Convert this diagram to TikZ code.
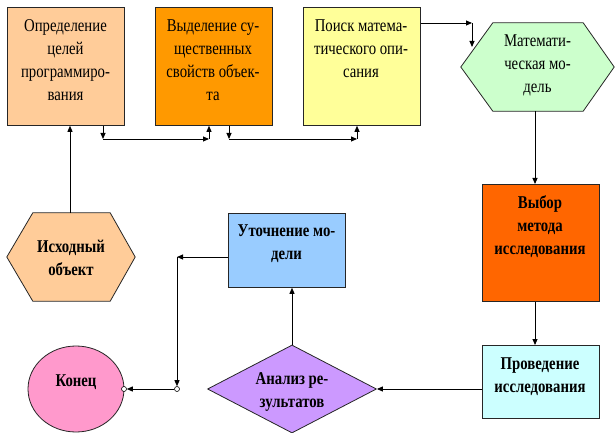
\documentclass[tikz,border=0pt]{standalone}
\usepackage{fontspec}
\setmainfont{Liberation Serif}
\usetikzlibrary{arrows.meta,shapes.geometric,calc}
\definecolor{cpeach}{HTML}{FFCC99}
\definecolor{corange}{HTML}{FF9900}
\definecolor{cyellow}{HTML}{FFFF99}
\definecolor{cgreen}{HTML}{CCFFCC}
\definecolor{cdeep}{HTML}{FF6600}
\definecolor{ccyan}{HTML}{CCFFFF}
\definecolor{cblue}{HTML}{99CCFF}
\definecolor{cviolet}{HTML}{CC99FF}
\definecolor{cpink}{HTML}{FF99CC}
\newcommand{\lt}[1]{\scalebox{0.82}[1]{\begin{tabular}{@{}c@{}}#1\end{tabular}}}
\tikzset{
  shp/.style={draw=black!85, line width=0.8pt},
  box/.style={shp, anchor=north west, inner sep=0pt, minimum width=117pt},
  lbl/.style={align=center, inner sep=0pt, font=\fontsize{18}{23}\selectfont},
  blbl/.style={lbl, font=\fontsize{18}{23}\selectfont\bfseries},
  arr/.style={line width=0.9pt, -{Triangle[length=6pt,width=5pt]}},
  dot/.style={circle, draw=black, fill=white, line width=0.6pt, inner sep=0pt, minimum size=5pt}
}
\begin{document}
\begin{tikzpicture}[x=1pt,y=-1pt]
\useasboundingbox (0,0) rectangle (616,433);
% top boxes
\node[box, fill=cpeach, minimum height=118pt] (b1) at (7,7) {};
\node[box, fill=corange, minimum height=118pt] (b2) at (155,7) {};
\node[box, fill=cyellow, minimum height=118pt] (b3) at (303,7) {};
\node[lbl, anchor=north] (t1) at (65.5,15) {\lt{Определение\\целей\\программиро-\\вания}};
\node[lbl, anchor=north] (t2) at (213,15) {\lt{Выделение су-\\щественных\\свойств объек-\\та}};
\node[lbl, anchor=north] (t3) at (361,15) {\lt{Поиск матема-\\тического опи-\\сания}};
% math hexagon
\node[inner sep=0pt, minimum width=153pt, minimum height=88pt] (mh) at (537.5,67) {};
\draw[shp, fill=cgreen] (mh.west) -- ($(mh.north west)+(32,0)$) -- ($(mh.north east)+(-31,0)$) -- (mh.east)
  -- ($(mh.south east)+(-31,0)$) -- ($(mh.south west)+(32,0)$) -- cycle;
\node[lbl] (tmh) at (537.5,65) {\lt{Математи-\\ческая мо-\\дель}};
% source hexagon
\node[inner sep=0pt, minimum width=128pt, minimum height=88pt] (sh) at (71,257) {};
\draw[shp, fill=cpeach] (sh.west) -- ($(sh.north west)+(26,0)$) -- ($(sh.north east)+(-25,0)$) -- (sh.east)
  -- ($(sh.south east)+(-25,0)$) -- ($(sh.south west)+(26,0)$) -- cycle;
\node[blbl] (tsh) at (71,259) {\lt{Исходный\\объект}};
% right column
\node[box, fill=cdeep, minimum height=117pt] (vy) at (482,184) {};
\node[blbl, anchor=north] (tvy) at (540,192) {\lt{Выбор\\метода\\исследования}};
\node[box, fill=ccyan, minimum height=73pt] (pr) at (482,345) {};
\node[blbl, anchor=north] (tpr) at (540,353) {\lt{Проведение\\исследования}};
% refinement
\node[box, fill=cblue, minimum height=74pt] (ut) at (228,213) {};
\node[blbl, anchor=north] (tut) at (286.5,220) {\lt{Уточнение мо-\\дели}};
% diamond
\node[shp, diamond, fill=cviolet, inner sep=0pt, minimum width=169pt, minimum height=88pt] (an) at (292,389) {};
\node[blbl] (tan) at (292,391) {\lt{Анализ ре-\\зультатов}};
% ellipse
\node[shp, ellipse, fill=cpink, inner sep=0pt, minimum width=96pt, minimum height=86pt] (ko) at (76,389) {};
\node[blbl] (tko) at (76,382) {\lt{Конец}};
% coordinates
\coordinate (z1a) at (103,139);
\coordinate (z1b) at (209,139);
\coordinate (z2a) at (229,139);
\coordinate (z2b) at (357,139);
\coordinate (r1) at (472,23);
\coordinate (r2) at (472,47);
\coordinate (u1) at (177,257);
\node[dot] (d1) at (177,389) {};
\node[dot] (d2) at (124,389) {};
% connectors
\draw[arr] (sh.north -| 70,0) -- (b1.south -| 70,0);
\draw[arr] (b1.south -| z1a) -- (z1a);
\draw[arr] (z1a) -- (z1b);
\draw[arr] (z1b) -- (b2.south -| z1b);
\draw[arr] (b2.south -| z2a) -- (z2a);
\draw[arr] (z2a) -- (z2b);
\draw[arr] (z2b) -- (b3.south -| z2b);
\draw[arr] (b3.east |- r1) -- (r1);
\draw[arr] (r1) -- (r2);
\draw[arr] (mh.south -| 535,0) -- (vy.north -| 535,0);
\draw[arr] (vy.south -| 535,0) -- (pr.north -| 535,0);
\draw[arr] (pr.west |- an.east) -- (an.east);
\draw[arr] (an.north) -- (ut.south -| an.north);
\draw[arr] (ut.west |- u1) -- (u1);
\draw[arr] (u1) -- (d1.north);
\draw[arr] (d1.west) -- (d2.east);
\end{tikzpicture}
\end{document}
